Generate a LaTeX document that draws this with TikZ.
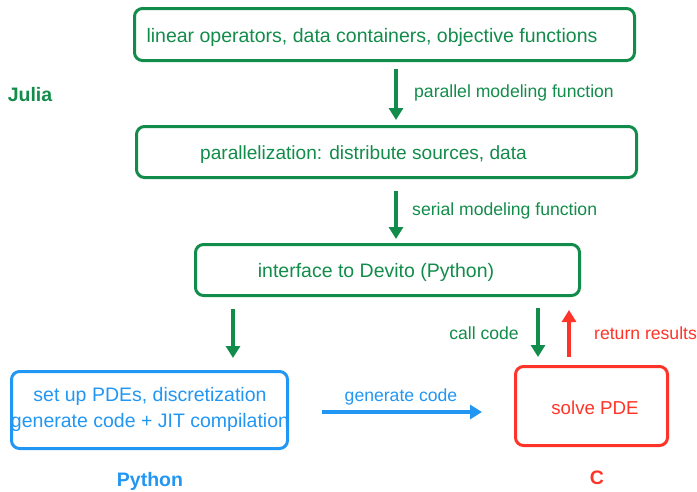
\documentclass[tikz,border=0pt]{standalone}
\usepackage{fontspec}
\setmainfont{Liberation Sans}
\usetikzlibrary{arrows.meta}
\definecolor{jgreen}{RGB}{18,140,74}
\definecolor{pblue}{RGB}{33,150,243}
\definecolor{cred}{RGB}{255,52,40}
\tikzset{
  box/.style={draw=#1, line width=3pt, rounded corners=8pt, inner sep=0pt},
  txt/.style={text=#1, font=\fontsize{19.5}{26}\selectfont, inner sep=0pt},
  lbl/.style={text=#1, font=\fontsize{17.6}{22}\selectfont, inner sep=0pt},
  lang/.style={text=#1, font=\fontsize{19.5}{24}\selectfont\bfseries, inner sep=0pt},
  conn/.style={draw=#1, line width=3.5pt, -{Triangle[width=14pt,length=12pt]}},
}
\begin{document}
\begin{tikzpicture}[x=1pt,y=-1pt]
\useasboundingbox (0,0) rectangle (697,491);
% boxes
\node[box=jgreen, minimum width=500pt, minimum height=52pt] (b1) at (384.5,34.5) {};
\node[box=jgreen, minimum width=500pt, minimum height=51pt] (b2) at (386.5,152) {};
\node[box=jgreen, minimum width=384pt, minimum height=51pt] (b3) at (387.5,270) {};
\node[box=pblue, minimum width=276pt, minimum height=77pt] (bp) at (149.5,410) {};
\node[box=cred, minimum width=152pt, minimum height=79pt] (bc) at (591.5,406) {};
% box texts
\node[txt=jgreen] (t1) at (372,37) {linear operators, data containers, objective functions};
\node[txt=jgreen, font=\fontsize{19.1}{26}\selectfont] (t2) at (363.5,155) {parallelization: distribute sources, data};
\node[txt=jgreen] (t3) at (376,272) {interface to Devito (Python)};
\node[txt=pblue, align=center] (tp) at (150,409) {set up PDEs, discretization\\generate code + JIT compilation};
\node[txt=cred, font=\fontsize{18.7}{24}\selectfont] (tc) at (595,408) {solve PDE};
% language labels
\node[lang=jgreen] (lj) at (30,95) {Julia};
\node[lang=pblue] (lp) at (150,481) {Python};
\node[lang=cred] (lc) at (597,478) {C};
% connectors
\coordinate (a1s) at ([xshift=11.5pt,yshift=-7pt]b1.south);
\coordinate (a1e) at ([xshift=9.5pt,yshift=5pt]b2.north);
\draw[conn=jgreen] (a1s) -- (a1e);
\coordinate (a2s) at ([xshift=9.5pt,yshift=-12pt]b2.south);
\coordinate (a2e) at ([xshift=8.5pt,yshift=4pt]b3.north);
\draw[conn=jgreen] (a2s) -- (a2e);
\coordinate (a3s) at ([xshift=39pt,yshift=-12pt]b3.south west);
\coordinate (a3e) at ([xshift=83.5pt,yshift=12pt]bp.north);
\draw[conn=jgreen] (a3s) -- (a3e);
\coordinate (a4s) at ([xshift=-43pt,yshift=-11pt]b3.south east);
\coordinate (a4e) at ([xshift=-53.5pt,yshift=8pt]bc.north);
\draw[conn=jgreen] (a4s) -- (a4e);
\coordinate (a5s) at ([xshift=-22.5pt,yshift=8pt]bc.north);
\coordinate (a5e) at ([xshift=-12pt,yshift=-13pt]b3.south east);
\draw[conn=cred] (a5s) -- (a5e);
\coordinate (a6s) at ([xshift=33pt,yshift=-2pt]bp.east);
\coordinate (a6e) at ([xshift=-32pt,yshift=-6pt]bc.west);
\draw[conn=pblue] (a6s) -- (a6e);
% connector labels
\node[lbl=jgreen, anchor=west] (l1) at (414,93) {parallel modeling function};
\node[lbl=jgreen, anchor=west] (l2) at (412,211) {serial modeling function};
\node[lbl=jgreen, anchor=east] (l3) at (519,333) {call code};
\node[lbl=cred, anchor=west] (l4) at (594,333) {return results};
\node[lbl=pblue] (l5) at (401,397) {generate code};
\end{tikzpicture}
\end{document}
